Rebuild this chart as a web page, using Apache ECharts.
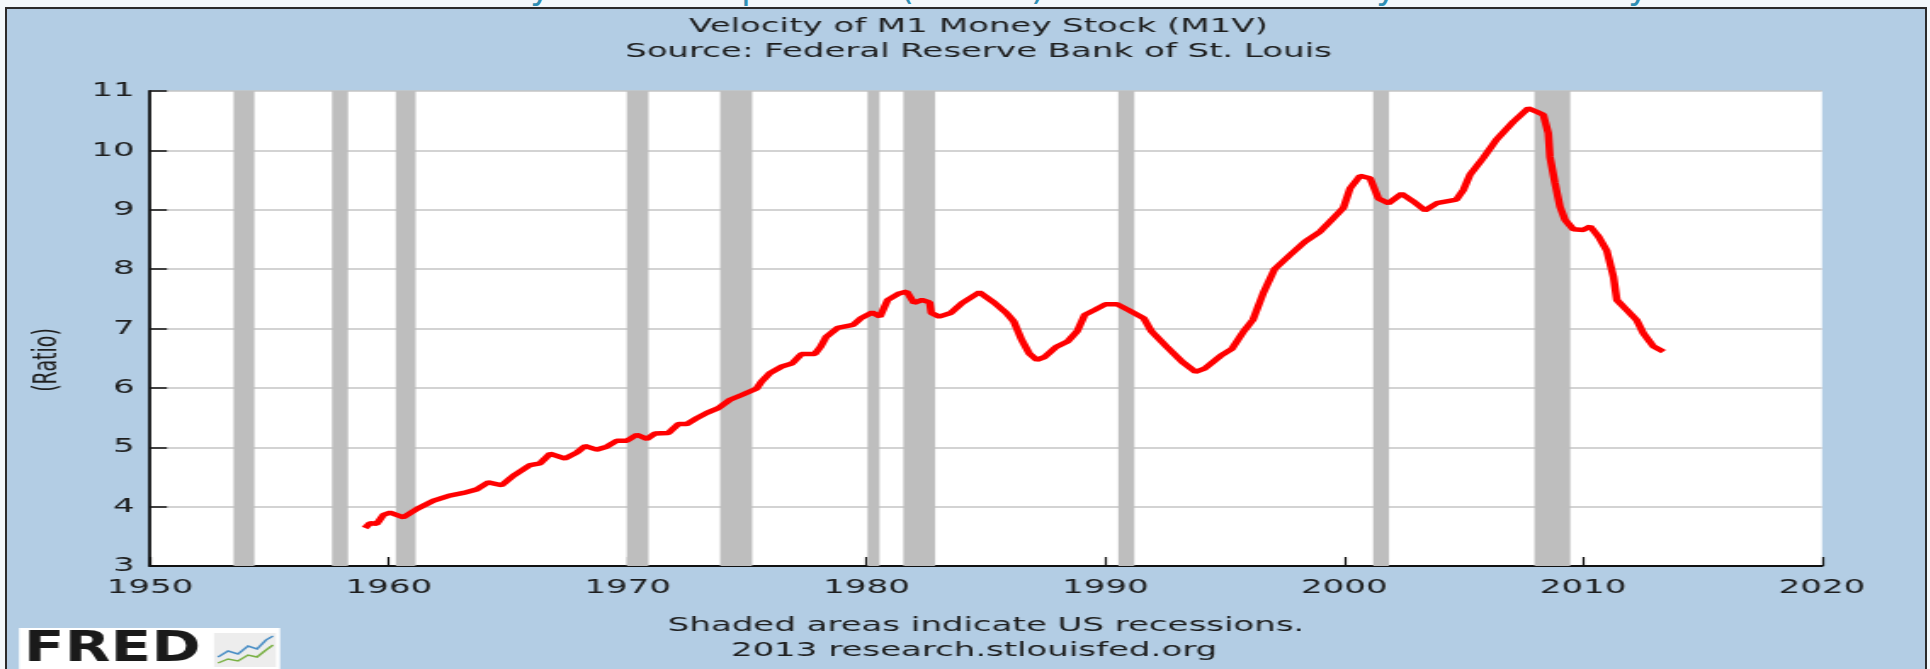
<!DOCTYPE html>
<html>
<head>
    <meta charset="utf-8">
    <title>Velocity of M1 Money Stock (M1V)</title>
    <script src="https://cdn.jsdelivr.net/npm/echarts@6/dist/echarts.min.js"></script>
    <style>
        html, body { margin: 0; padding: 0; overflow: hidden; background: #f3f8fb; width: 1930px; height: 669px; }
        #strip { position: absolute; left: 0; top: 0; width: 1930px; height: 7px; overflow: hidden; }
        #strip span { position: absolute; top: -31px; font: 36px 'DejaVu Sans'; line-height: 36px; color: #2f8fb3; }
        #panel { position: absolute; left: 5px; top: 7px; width: 1918px; height: 670px; background: #b3cde4; border: 2px solid #2b2b2b; }
        /* the reference is a horizontally stretched image: draw narrow, then stretch */
        #chart { position: absolute; left: 0; top: 0; width: 1135px; height: 669px; transform: scaleX(1.7); transform-origin: 0 0; }
    </style>
</head>
<body>
    <div id="strip">
        <span style="left:530px">y</span>
        <span style="left:741px">p</span>
        <span style="left:900px">(</span>
        <span style="left:1031px">)</span>
        <span style="left:1376px">y</span>
        <span style="left:1628px">y</span>
    </div>
    <div id="panel"></div>
    <div id="chart"></div>
    <script>
    // quarterly M1 velocity (decimal years)
    var years = [
        1959.0, 1959.21, 1959.49, 1959.77, 1960.05, 1960.61, 1961.17, 1961.86, 1962.49, 1963.12,
        1963.68, 1964.16, 1964.72, 1965.21, 1965.91, 1966.33, 1966.75, 1967.37, 1967.86, 1968.21,
        1968.7, 1969.12, 1969.54, 1969.96, 1970.38, 1970.8, 1971.14, 1971.7, 1972.12, 1972.47,
        1972.89, 1973.31, 1973.79, 1974.28, 1974.77, 1975.4, 1975.59, 1975.95, 1976.45, 1976.87,
        1977.27, 1977.83, 1978.07, 1978.31, 1978.79, 1979.43, 1979.75, 1980.23, 1980.56, 1980.88,
        1981.36, 1981.68, 1981.99, 1982.32, 1982.64, 1982.71, 1983.04, 1983.52, 1984.0, 1984.72,
        1985.36, 1985.85, 1986.16, 1986.49, 1986.81, 1987.13, 1987.45, 1987.93, 1988.41, 1988.81,
        1989.13, 1989.53, 1990.01, 1990.48, 1990.97, 1991.61, 1991.93, 1992.57, 1993.21, 1993.77,
        1994.17, 1994.82, 1995.3, 1995.78, 1996.18, 1996.61, 1997.08, 1997.73, 1998.35, 1998.98,
        1999.47, 1999.96, 2000.24, 2000.66, 2001.08, 2001.43, 2001.85, 2002.4, 2002.89, 2003.38,
        2003.87, 2004.69, 2004.98, 2005.26, 2005.81, 2006.37, 2007.07, 2007.7, 2008.05, 2008.33,
        2008.54, 2008.61, 2008.82, 2009.03, 2009.24, 2009.59, 2010.01, 2010.29, 2010.64, 2010.99,
        2011.27, 2011.41, 2011.83, 2012.24, 2012.52, 2012.94, 2013.36
    ];
    var m1v = [
        3.64, 3.72, 3.71, 3.86, 3.90, 3.82, 3.96, 4.10, 4.18, 4.23,
        4.29, 4.41, 4.36, 4.52, 4.70, 4.73, 4.89, 4.81, 4.91, 5.02,
        4.96, 5.01, 5.11, 5.11, 5.21, 5.14, 5.23, 5.24, 5.39, 5.39,
        5.49, 5.58, 5.66, 5.80, 5.88, 5.99, 6.10, 6.25, 6.36, 6.41,
        6.57, 6.57, 6.69, 6.86, 7.01, 7.06, 7.17, 7.27, 7.20, 7.48,
        7.59, 7.62, 7.43, 7.48, 7.44, 7.26, 7.20, 7.26, 7.43, 7.61,
        7.43, 7.26, 7.12, 6.81, 6.58, 6.47, 6.52, 6.69, 6.78, 6.95,
        7.23, 7.31, 7.41, 7.41, 7.31, 7.17, 6.95, 6.69, 6.44, 6.27,
        6.33, 6.54, 6.66, 6.95, 7.15, 7.60, 8.00, 8.24, 8.46, 8.63,
        8.83, 9.03, 9.36, 9.57, 9.53, 9.19, 9.11, 9.27, 9.14, 8.99,
        9.11, 9.17, 9.33, 9.59, 9.87, 10.18, 10.48, 10.71, 10.65, 10.60,
        10.29, 9.89, 9.45, 9.05, 8.83, 8.67, 8.66, 8.72, 8.55, 8.31,
        7.87, 7.48, 7.31, 7.14, 6.92, 6.70, 6.61
    ];
    // NBER recessions (shaded)
    var recStart = [1953.5, 1957.62, 1960.29, 1969.96, 1973.87, 1980.04, 1981.54, 1990.54, 2001.21, 2007.96];
    var recEnd = [1954.37, 1958.29, 1961.12, 1970.87, 1975.21, 1980.54, 1982.87, 1991.21, 2001.87, 2009.46];

    var S = 1.7; // horizontal stretch
    function sx(px) { return px / S; }

    var points = years.map(function(y, i) { return [y, m1v[i]]; });
    var bands = recStart.map(function(s, i) { return [{ xAxis: s }, { xAxis: recEnd[i] }]; });

    var txt = '#1e1e1e';
    var myChart = echarts.init(document.getElementById('chart'));

    var option = {
        animation: false,
        backgroundColor: 'transparent',
        textStyle: { fontFamily: 'DejaVu Sans' },
        title: {
            text: 'Velocity of M1 Money Stock (M1V)',
            subtext: 'Source: Federal Reserve Bank of St. Louis',
            left: sx(970),
            top: 12,
            textAlign: 'center',
            itemGap: 5,
            textStyle: { fontSize: 20, fontWeight: 'normal', color: txt, lineHeight: 20 },
            subtextStyle: { fontSize: 20, color: txt, lineHeight: 20 }
        },
        grid: {
            left: sx(150),
            right: 1135 - sx(1822),
            top: 91,
            bottom: 103,
            show: true,
            backgroundColor: '#ffffff',
            borderWidth: 0
        },
        xAxis: {
            type: 'value',
            min: 1950,
            max: 2020,
            interval: 10,
            axisLine: { onZero: false, lineStyle: { color: '#111', width: 1.8 } },
            axisTick: { inside: true, length: 9, lineStyle: { color: '#111', width: 1.2 } },
            axisLabel: { margin: 12, fontSize: 20, color: txt, formatter: function(v) { return String(v); } },
            splitLine: { show: false }
        },
        yAxis: {
            type: 'value',
            min: 3,
            max: 11,
            interval: 1,
            axisLine: { show: true, onZero: false, lineStyle: { color: '#111', width: 1.8 } },
            axisTick: { show: true, inside: true, length: 10, lineStyle: { color: '#111', width: 1.5 } },
            axisLabel: { margin: 9, fontSize: 20, color: txt },
            splitLine: { lineStyle: { color: '#c4c4c4', width: 1.5 } }
        },
        series: [{
            name: 'recessions',
            type: 'line',
            data: [],
            z: 1,
            markArea: {
                silent: true,
                itemStyle: { color: '#bebebe', opacity: 1 },
                data: bands
            }
        }, {
            name: 'M1V',
            type: 'line',
            data: points,
            z: 3,
            showSymbol: false,
            lineStyle: { color: '#ff0000', width: 4.5 }
        }],
        graphic: [
            {
                type: 'text', x: sx(48), y: 360, rotation: Math.PI / 2,
                style: { text: '(Ratio)', font: '19px DejaVu Sans', fill: txt, textAlign: 'center', textVerticalAlign: 'middle' }
            },
            {
                type: 'text', x: sx(986), y: 626,
                style: { text: 'Shaded areas indicate US recessions.', font: '20px DejaVu Sans', fill: txt, textAlign: 'center', textVerticalAlign: 'middle' }
            },
            {
                type: 'text', x: sx(974), y: 651,
                style: { text: '2013 research.stlouisfed.org', font: '20px DejaVu Sans', fill: txt, textAlign: 'center', textVerticalAlign: 'middle' }
            },
            // FRED logo
            {
                type: 'rect', shape: { x: sx(19), y: 628, width: sx(261), height: 42 },
                style: { fill: '#ffffff' }
            },
            {
                type: 'text', x: sx(24), y: 650, scaleY: 1.2,
                style: { text: 'FRED', font: 'bold 35px DejaVu Sans', fill: '#1a1a1a', textAlign: 'left', textVerticalAlign: 'middle' }
            },
            {
                type: 'rect', shape: { x: sx(214), y: 633, width: sx(62), height: 34 },
                style: { fill: '#ededed' }
            },
            {
                type: 'polyline',
                shape: { points: [[sx(218), 657], [sx(228), 651], [sx(238), 654], [sx(248), 646], [sx(257), 649], [sx(266), 640], [sx(273), 636]] },
                style: { stroke: '#4b8fc6', lineWidth: 1.5, fill: null }
            },
            {
                type: 'polyline',
                shape: { points: [[sx(218), 663], [sx(228), 659], [sx(238), 661], [sx(248), 655], [sx(257), 657], [sx(266), 650], [sx(273), 645]] },
                style: { stroke: '#79b043', lineWidth: 1.5, fill: null }
            }
        ]
    };

    myChart.setOption(option);
    addEventListener('resize', myChart.resize);
    </script>
</body>
</html>
